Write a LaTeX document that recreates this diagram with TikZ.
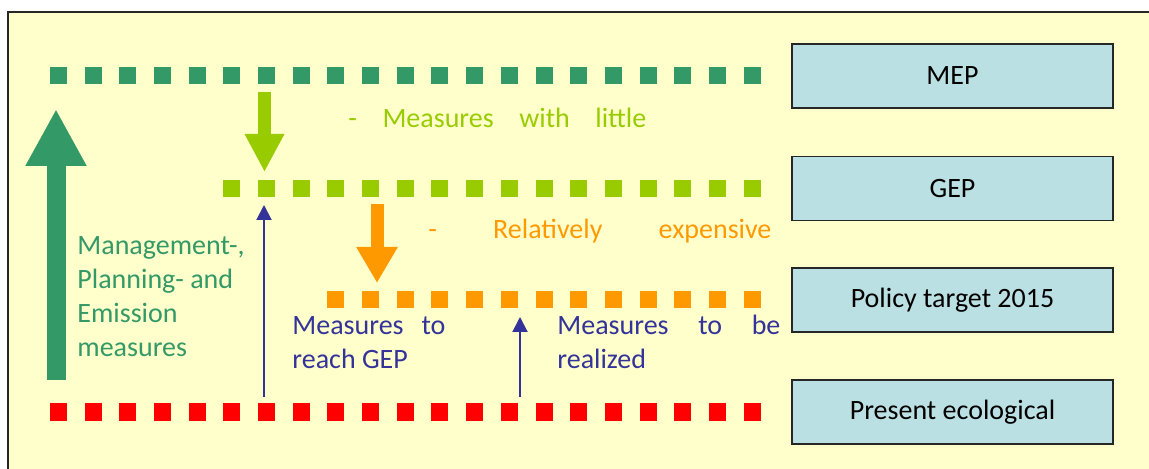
\documentclass[tikz,border=0pt]{standalone}
\usepackage{fontspec}
\setmainfont{Carlito}
\usetikzlibrary{arrows.meta}
\definecolor{bgyellow}{HTML}{FFFFCC}
\definecolor{mepgreen}{HTML}{339966}
\definecolor{gepgreen}{HTML}{99CC00}
\definecolor{policyorange}{HTML}{FF9900}
\definecolor{presentred}{HTML}{FF0000}
\definecolor{measureblue}{HTML}{333399}
\definecolor{boxblue}{HTML}{BBE0E3}
\begin{document}
\begin{tikzpicture}[x=.5pt,y=-.5pt,line join=miter,
 font=\fontsize{14}{16.85}\selectfont,
 levelbox/.style={draw=black!85,line width=.75pt,fill=boxblue,inner sep=0pt,
  minimum width=160.5pt,minimum height=32pt},
 thinarrow/.style={draw=measureblue,line width=1pt,
  -{Triangle[width=7.5pt,length=7.5pt]}},
 label/.style={anchor=base west,inner sep=0pt,align=flush left}]
 \useasboundingbox (0,0) rectangle (1149,469);
 \fill[bgyellow] (8,12) rectangle (1160,480);
 \draw[line width=1pt,black!85] (8,480)--(8,12)--(1160,12);
 % levels
 \node[levelbox] (mep) at (952.5,76) {MEP};
 \node[levelbox] (gep) at (952.5,188.5) {GEP};
 \node[levelbox] (policy) at (952.5,300) {Policy target 2015};
 \node[levelbox] (present) at (952.5,412) {Present ecological};
 \foreach \col/\first/\height in {mepgreen/0/76,gepgreen/5/188.5,
   policyorange/8/300,presentred/0/412}{
  \foreach \i in {\first,...,20}{
   \fill[\col] ({58.5+34.68*\i-8.5},\height-8.5) rectangle +(17,17);
  }
 }
 % arrows
 \coordinate (mgmt-s) at (56,380);
 \coordinate (mgmt-t) at (56,109);
 \coordinate (little-s) at (264.5,92);
 \coordinate (little-t) at (264.5,172);
 \coordinate (exp-s) at (377,204);
 \coordinate (exp-t) at (377,283);
 \coordinate (gepm-s) at (264,397);
 \coordinate (gepm-t) at (264,205);
 \coordinate (real-s) at (520,397);
 \coordinate (real-t) at (520,317);
 \draw[mepgreen,line width=9.5pt,-{Triangle[width=28.5pt,length=28.5pt]}]
  (mgmt-s)--(mgmt-t);
 \draw[gepgreen,line width=6.5pt,-{Triangle[width=18.5pt,length=19pt]}]
  (little-s)--(little-t);
 \draw[policyorange,line width=6.5pt,-{Triangle[width=19.5pt,length=18pt]}]
  (exp-s)--(exp-t);
 \draw[thinarrow] (gepm-s)--(gepm-t);
 \draw[thinarrow] (real-s)--(real-t);
 % texts
 \node[label,text=mepgreen,text width=90pt] (mgmt) at (77,255)
  {Management-,\\Planning- and\\Emission\\measures};
 \node[label,text=gepgreen,text width=149pt] (little) at (348,128)
  {-\hfill Measures\hfill with\hfill little};
 \node[label,text=policyorange,text width=171.5pt] (exp) at (428,239)
  {-\hfill Relatively\hfill expensive};
 \node[label,text=measureblue,text width=76.5pt] (gepm) at (292,335)
  {Measures\hfill to\\reach GEP};
 \node[label,text=measureblue,text width=111.5pt] (real) at (557,335)
  {Measures\hfill to\hfill be\\realized};
\end{tikzpicture}
\end{document}
